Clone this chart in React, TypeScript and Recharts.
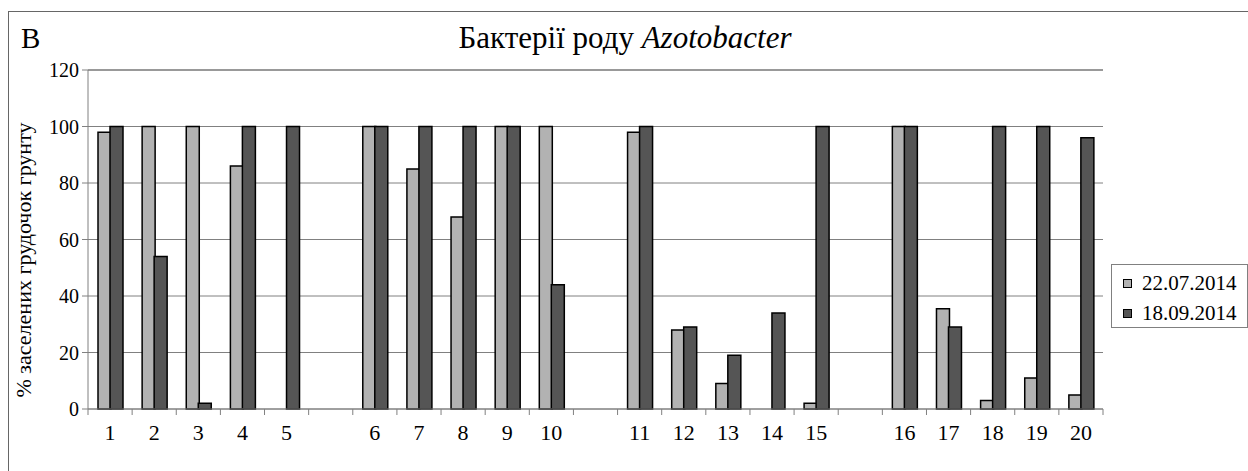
import { BarChart, Bar, XAxis, YAxis, CartesianGrid, ReferenceLine } from 'recharts'

// 23 slots: samples 1-20 with an empty slot after every fifth one
const labels = ['1', '2', '3', '4', '5', '', '6', '7', '8', '9', '10', '', '11', '12', '13', '14', '15', '', '16', '17', '18', '19', '20']
const july = [98, 100, 100, 86, 0, null, 100, 85, 68, 100, 100, null, 98, 28, 9, 0, 2, null, 100, 35.5, 3, 11, 5]
const september = [100, 54, 2, 100, 100, null, 100, 100, 100, 100, 44, null, 100, 29, 19, 34, 100, null, 100, 29, 100, 100, 96]
const yTicks = [0, 20, 40, 60, 80, 100, 120]

const series = [
  { key: 'july', name: '22.07.2014', color: '#b2b2b2' },
  { key: 'september', name: '18.09.2014', color: '#555555' },
]

const FONT = "'Liberation Serif', 'Times New Roman', serif"
const W = 1248
const H = 471
const MARGIN = { top: 70, right: 145, bottom: 32, left: 48 }
const Y_AXIS_W = 40
const PLOT_W = W - MARGIN.left - MARGIN.right - Y_AXIS_W
const BAND = PLOT_W / labels.length

const data = labels.map((name, i) => ({ name, july: july[i], september: september[i] }))

function CategoryTick(props: any) {
  const { x, y, payload, index } = props
  const half = BAND / 2
  const last = index === labels.length - 1
  return (
    <g>
      <line x1={x - half} y1={y} x2={x - half} y2={y + 6} stroke="#808080" />
      {last && <line x1={x + half} y1={y} x2={x + half} y2={y + 6} stroke="#808080" />}
      <text x={x} y={y + 31} textAnchor="middle" fill="#000" fontSize={22} fontFamily={FONT}>
        {payload.value}
      </text>
    </g>
  )
}

export default function App() {
  return (
    <div style={{ position: 'absolute', left: 0, top: 0, width: W, height: H, background: '#fff', overflow: 'hidden', fontFamily: FONT, color: '#000' }}>
      <div style={{ position: 'absolute', left: 8, top: 11, width: W, height: H, borderTop: '1px solid #666', borderLeft: '1px solid #666' }} />
      <div style={{ position: 'absolute', left: 21, top: 22, fontSize: 29, lineHeight: 'normal' }}>B</div>
      <div style={{ position: 'absolute', left: 0, width: 1250, top: 20, textAlign: 'center', fontSize: 31, lineHeight: 'normal' }}>
        Бактерії роду <i>Azotobacter</i>
      </div>
      <div style={{ position: 'absolute', left: 24, top: 260, width: 0, height: 0 }}>
        <div style={{ position: 'absolute', transform: 'translate(-50%, -50%) rotate(-90deg)', whiteSpace: 'nowrap', fontSize: 22 }}>
          % заселених грудочок грунту
        </div>
      </div>
      <div style={{ position: 'absolute', left: 1111, top: 264, width: 137, height: 64, boxSizing: 'border-box', border: '1px solid #808080', background: '#fff', padding: '3px 0 0 11px', fontSize: 21, lineHeight: '30px' }}>
        {series.map((s) => (
          <div key={s.key} style={{ display: 'flex', alignItems: 'center', whiteSpace: 'nowrap' }}>
            <span style={{ display: 'inline-block', width: 7, height: 7, border: '1.5px solid #000', background: s.color, marginRight: 10 }} />
            <span>{s.name}</span>
          </div>
        ))}
      </div>
      <div style={{ position: 'absolute', left: 0, top: 0 }}>
        <BarChart width={W} height={H} data={data} margin={MARGIN} barSize={13} barGap={-1}>
          <CartesianGrid vertical={false} stroke="#808080" yAxisId="left" />
          <XAxis
            dataKey="name"
            interval={0}
            tickLine={false}
            tickSize={0}
            tickMargin={0}
            height={30}
            axisLine={{ stroke: '#808080' }}
            tick={<CategoryTick />}
          />
          <YAxis
            yAxisId="left"
            domain={[0, 120]}
            ticks={yTicks}
            width={Y_AXIS_W}
            tickSize={6}
            tickMargin={3}
            axisLine={{ stroke: '#808080' }}
            tickLine={{ stroke: '#808080' }}
            tick={{ fill: '#000', fontSize: 20, fontFamily: FONT }}
          />
          <YAxis yAxisId="right" orientation="right" width={0} tick={false} tickLine={false} axisLine={{ stroke: '#999', strokeWidth: 2 }} />
          <ReferenceLine yAxisId="left" y={120} stroke="#999" strokeWidth={2} />
          {series.map((s) => (
            <Bar key={s.key} yAxisId="left" dataKey={s.key} name={s.name} fill={s.color} stroke="#000" strokeWidth={1.5} isAnimationActive={false} />
          ))}
        </BarChart>
      </div>
    </div>
  )
}
